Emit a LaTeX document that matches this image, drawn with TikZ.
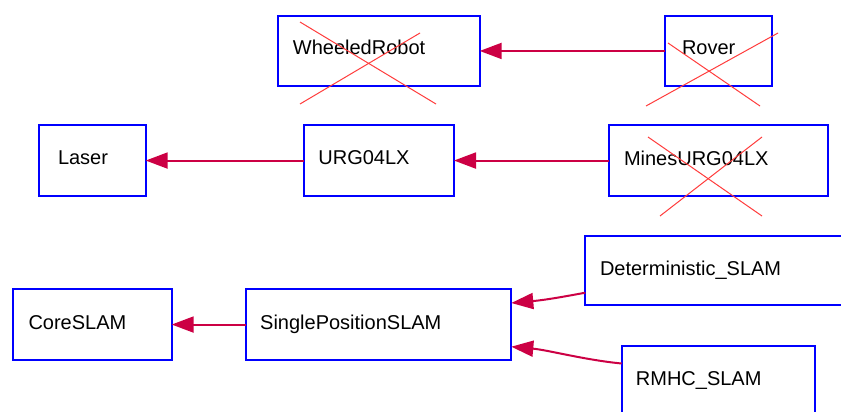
\documentclass[tikz,border=0pt]{standalone}
\usepackage{fontspec}
\setmainfont{Liberation Sans}
\usetikzlibrary{arrows.meta}
\definecolor{boxblue}{RGB}{0,0,255}
\definecolor{edgered}{RGB}{204,0,68}
\definecolor{crossred}{RGB}{255,60,60}
\begin{document}
\begin{tikzpicture}[x=1pt,y=-1pt,
  box/.style={draw=boxblue, line width=2pt, rectangle, inner sep=0pt, outer sep=0pt,
              anchor=north west, minimum height=70.5pt},
  lbl/.style={inner sep=0pt, anchor=base west, font=\fontsize{20}{24}\selectfont, text=black},
  edge/.style={draw=edgered, line width=2pt, -{Triangle[length=22pt,width=16pt]}},
  cross/.style={draw=crossred, line width=1pt}]
\clip (0,0) rectangle (841,412);
\fill[white] (0,0) rectangle (841,412);

% class boxes
\node[box, minimum width=202pt]   (wr)    at (277.7,15.7)  {};
\node[box, minimum width=106.7pt] (rover) at (665.3,15.7)  {};
\node[box, minimum width=106.4pt] (laser) at (39.3,125.3)  {};
\node[box, minimum width=150.3pt] (urg)   at (303.7,125.3) {};
\node[box, minimum width=219pt]   (mines) at (609.3,125.3) {};
\node[box, minimum width=158.4pt] (core)  at (13.3,289.3)  {};
\node[box, minimum width=265.3pt] (sps)   at (246,289.3)   {};
\node[box, minimum width=300pt, minimum height=69pt] (det) at (585.3,236) {};
\node[box, minimum width=193.6pt] (rmhc)  at (621.7,346)   {};

% class names
\node[lbl] (wrt)    at ([xshift=15pt,yshift=-3.5pt]wr.west)    {WheeledRobot};
\node[lbl] (rovert) at ([xshift=16.5pt,yshift=-3.5pt]rover.west) {Rover};
\node[lbl] (lasert) at ([xshift=18.5pt,yshift=-4.3pt]laser.west) {Laser};
\node[lbl] (urgt)   at ([xshift=14.5pt,yshift=-4.3pt]urg.west)   {URG04LX};
\node[lbl] (minest) at ([xshift=14.5pt,yshift=-4.5pt]mines.west) {MinesURG04LX};
\node[lbl] (coret)  at ([xshift=15pt,yshift=-4.5pt]core.west)   {CoreSLAM};
\node[lbl] (spst)   at ([xshift=14pt,yshift=-4.5pt]sps.west)    {SinglePositionSLAM};
\node[lbl] (dett)   at ([xshift=14.5pt,yshift=-4.5pt]det.west)  {Deterministic\_SLAM};
\node[lbl] (rmhct)  at ([xshift=14pt,yshift=-3.8pt]rmhc.west)  {RMHC\_SLAM};

% crossed-out classes
\draw[cross] (300,22) -- (436,104);
\draw[cross] (300,104) -- (420,33);
\draw[cross] (668,43) -- (760,106);
\draw[cross] (646,106) -- (778,33);
\draw[cross] (648,137) -- (762,216);
\draw[cross] (660,216) -- (762,137);

% inheritance edges
\draw[edge] (rover.west) -- (wr.east);
\draw[edge] (urg.west) -- (laser.east);
\draw[edge] (mines.west) -- (urg.east);
\draw[edge] (sps.west) -- (core.east);
\draw[edge] (det.west |- 0,292.7) .. controls (562,297) and (545,300) .. (sps.east |- 0,303);
\draw[edge] (rmhc.west |- 0,363.5) .. controls (585,360) and (548,350) .. (sps.east |- 0,346.7);
\end{tikzpicture}
\end{document}
